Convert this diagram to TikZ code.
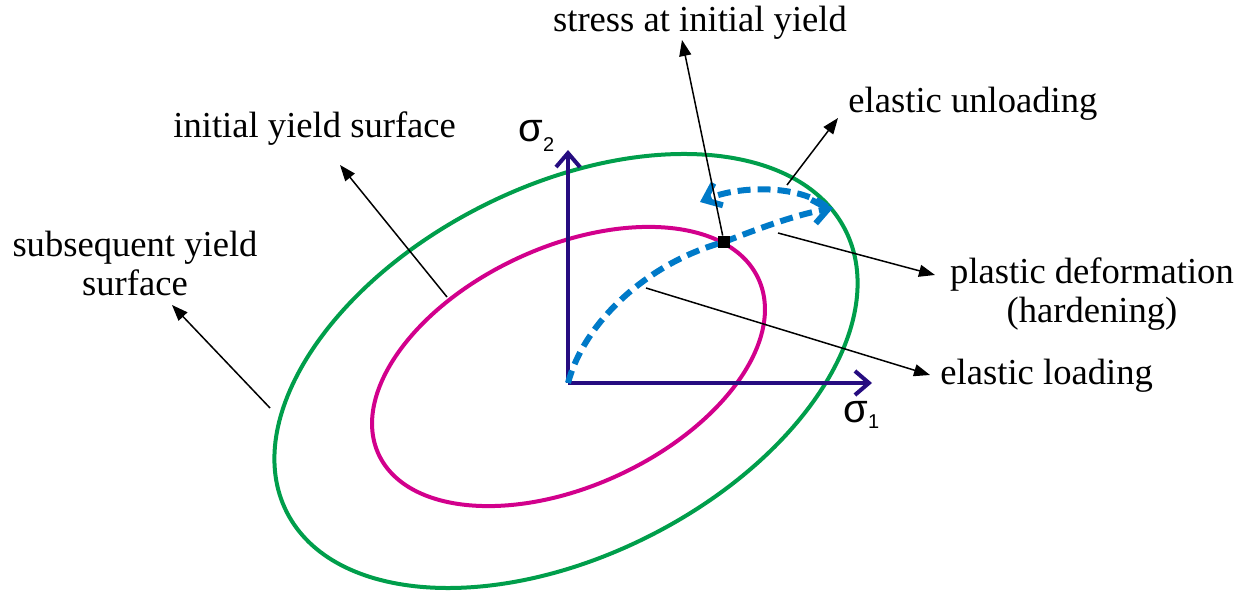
\documentclass[tikz,border=0pt]{standalone}
\usepackage{fontspec}
\setmainfont{Liberation Serif}
\newfontfamily\sigfont{Liberation Sans}
\usetikzlibrary{arrows.meta}
\definecolor{ygreen}{RGB}{0,158,75}
\definecolor{ymag}{RGB}{210,0,140}
\definecolor{pathblue}{RGB}{0,122,200}
\definecolor{axisblue}{RGB}{38,12,128}
\begin{document}
\begin{tikzpicture}[x=0.5pt,y=-0.5pt,
  lbl/.style={font=\fontsize{18.3}{19.5}\selectfont, inner sep=0pt},
  sig/.style={font=\sigfont\fontsize{20}{20}\selectfont, inner sep=0pt, black},
  leader/.style={black, line width=0.75pt, -{Triangle[length=8pt,width=6pt]}},
  axisline/.style={axisblue, line width=2pt, -{Straight Barb[length=7pt,width=12pt]}},
  surf/.style={line width=2pt},
  blueline/.style={pathblue, line width=3pt, dash pattern=on 6.5pt off 3.5pt},
  bluetip/.style={-{Straight Barb[length=7.5pt,width=12pt]}}]
\useasboundingbox (0,0) rectangle (1247,592);

% yield surfaces
\draw[surf, ygreen, rotate around={26.75:(566,371)}] (566,371) ellipse [x radius=156.45pt, y radius=92.45pt];
\draw[surf, ymag, rotate around={24.8:(568.5,366.5)}] (568.5,366.5) ellipse [x radius=104.6pt, y radius=59.8pt];

% axes
\coordinate (O) at (568,383);
\coordinate (X1) at (872,383);
\coordinate (X2) at (568,150);
\draw[axisline] (O) -- (X1);
\draw[axisline] (O) -- (X2);
\node[sig, anchor=base west] (s1) at (843,423) {σ\raisebox{-3pt}{\fontsize{10}{10}\selectfont 1}};
\node[sig, anchor=base west] (s2) at (518,142) {σ\raisebox{-5pt}{\fontsize{10}{10}\selectfont 2}};

% stress path
\coordinate (Yc) at (724,242);
\coordinate (P) at (833,208);
\coordinate (U0) at (827,207);
\coordinate (U1) at (700,202);
\draw[blueline] (O) .. controls (585,320) and (650,262) .. (Yc);
\draw[blueline, bluetip] (Yc) .. controls (760,228) and (795,215) .. (P);
\draw[blueline, bluetip] (U0) .. controls (800,185) and (740,185) .. (U1);
\node[fill=black, minimum size=6pt, inner sep=0pt] (Y) at (Yc) {};

% labels
\node[lbl, anchor=base] (tStress) at (700,32) {stress at initial yield};
\node[lbl, anchor=base west] (tUnload) at (848,113) {elastic unloading};
\node[lbl, align=center] (tPlastic) at (1092,294) {plastic deformation\\(hardening)};
\node[lbl, anchor=base west] (tLoad) at (940,385) {elastic loading};
\node[lbl, anchor=base west] (tInit) at (173,138) {initial yield surface};
\node[lbl, align=center] (tSub) at (135,263) {subsequent yield\\surface};

% leader lines
\coordinate (aStress) at (682,40);
\coordinate (sUnload) at (787,185);
\coordinate (aUnload) at (838,118);
\coordinate (sPlastic) at (778,233);
\coordinate (aPlastic) at (935,275);
\coordinate (sLoad) at (646,288);
\coordinate (aLoad) at (930,375);
\coordinate (sInit) at (447,297);
\coordinate (aInit) at (340,165);
\coordinate (sSub) at (270,408);
\coordinate (aSub) at (172,305);
\draw[leader] (Y) -- (aStress);
\draw[leader] (sUnload) -- (aUnload);
\draw[leader] (sPlastic) -- (aPlastic);
\draw[leader] (sLoad) -- (aLoad);
\draw[leader] (sInit) -- (aInit);
\draw[leader] (sSub) -- (aSub);
\end{tikzpicture}
\end{document}
